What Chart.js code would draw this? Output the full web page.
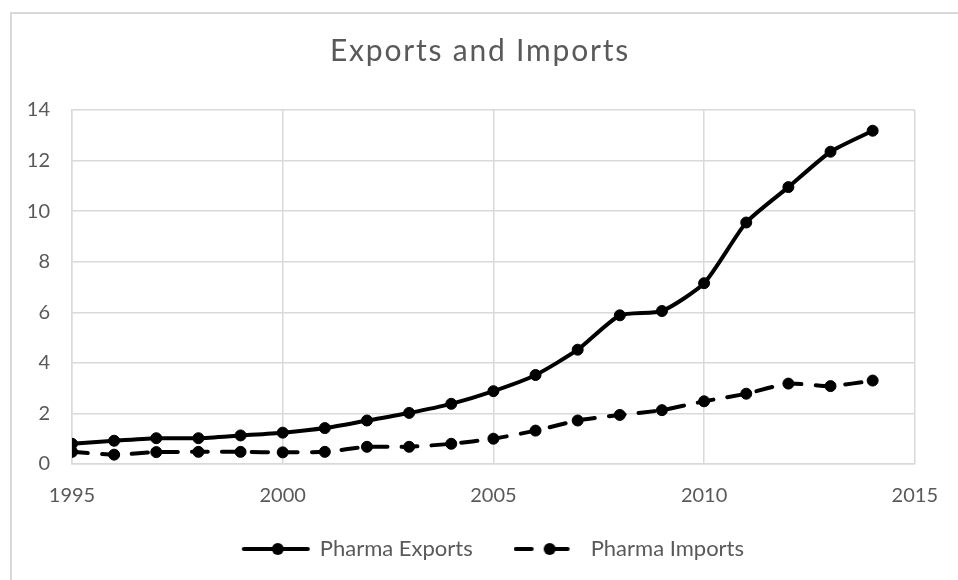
<!DOCTYPE html>
<html>
<head>
<meta charset="utf-8">
<title>Exports and Imports</title>
<script src="https://cdn.jsdelivr.net/npm/chart.js@4"></script>
<style>
  html, body { margin: 0; padding: 0; background: #fff; }
  #wrap { width: 958px; height: 580px; }
</style>
</head>
<body>
<div id="wrap"><canvas id="chart" width="958" height="580"></canvas></div>
<script>
// data
const years = [1995, 1996, 1997, 1998, 1999, 2000, 2001, 2002, 2003, 2004,
               2005, 2006, 2007, 2008, 2009, 2010, 2011, 2012, 2013, 2014];
const pharmaExports = [0.80, 0.92, 1.02, 1.02, 1.13, 1.24, 1.42, 1.72, 2.02, 2.38,
                       2.88, 3.52, 4.52, 5.88, 6.05, 7.15, 9.55, 10.95, 12.35, 13.18];
const pharmaImports = [0.48, 0.37, 0.47, 0.48, 0.48, 0.46, 0.48, 0.68, 0.68, 0.80,
                       1.00, 1.32, 1.72, 1.94, 2.13, 2.48, 2.78, 3.18, 3.08, 3.30];
const xTicks = [1995, 2000, 2005, 2010, 2015];
const seriesNames = ['Pharma Exports', 'Pharma Imports'];

const FONT = "Lato, 'Open Sans', sans-serif";
const GREY = '#595959';
const GRID = '#d9d9d9';

function toPoints(vals) {
  return years.map((y, i) => ({ x: y, y: vals[i] }));
}

// legend symbols: line with a dot in the middle, like the spreadsheet legend
function legendSymbol(dashed) {
  const c = document.createElement('canvas');
  c.width = dashed ? 66 : 70;
  c.height = 16;
  const g = c.getContext('2d');
  g.strokeStyle = '#000';
  g.fillStyle = '#000';
  g.lineWidth = 4;
  g.lineCap = 'round';
  g.beginPath();
  if (dashed) {
    g.moveTo(2, 8); g.lineTo(18, 8);
    g.moveTo(36, 8); g.lineTo(54, 8);
  } else {
    g.moveTo(3, 8); g.lineTo(67, 8);
  }
  g.stroke();
  g.beginPath();
  g.arc(dashed ? 36 : 37, 8, 6, 0, Math.PI * 2);
  g.fill();
  return c;
}
const legendImgs = [legendSymbol(false), legendSymbol(true)];

const frame = {
  id: 'frame',
  afterInit(chart) {
    // title sits centred on the whole frame and is set a little wider
    const tb = chart.titleBlock;
    if (tb) {
      const orig = tb.draw;
      tb.draw = function () {
        const ctx = this.ctx;
        ctx.save();
        ctx.letterSpacing = '1.8px';
        ctx.translate(chart.width / 2 - (this.left + this.right) / 2 + 1, 0);
        orig.call(this);
        ctx.restore();
      };
    }
  },
  afterLayout(chart) {
    // let the x tick labels run below the axis box instead of being clipped
    const x = chart.scales.x;
    x.bottom = x.top + 56;
  },
  beforeDraw(chart) {
    const ctx = chart.ctx;
    ctx.save();
    ctx.fillStyle = '#fff';
    ctx.fillRect(0, 0, chart.width, chart.height);
    ctx.strokeStyle = GRID;
    ctx.lineWidth = 2;
    ctx.strokeRect(11, 13, chart.width + 20, chart.height + 20);
    ctx.restore();
  }
};

new Chart(document.getElementById('chart'), {
  type: 'line',
  data: {
    datasets: [
      {
        label: seriesNames[0],
        data: toPoints(pharmaExports),
        borderColor: '#000',
        backgroundColor: '#000',
        borderWidth: 4,
        pointRadius: 5.5,
        pointBorderWidth: 1,
        pointBackgroundColor: '#000',
        tension: 0.2,
        fill: false
      },
      {
        label: seriesNames[1],
        data: toPoints(pharmaImports),
        borderColor: '#000',
        backgroundColor: '#000',
        borderWidth: 4,
        borderDash: [16, 14],
        borderCapStyle: 'round',
        pointRadius: 5.5,
        pointBorderWidth: 1,
        pointBackgroundColor: '#000',
        tension: 0.2,
        fill: false
      }
    ]
  },
  options: {
    responsive: false,
    animation: false,
    layout: { padding: { left: 10, right: 41, top: 12, bottom: 10 } },
    plugins: {
      title: {
        display: true,
        text: 'Exports and Imports',
        color: GREY,
        font: { family: FONT, size: 30, weight: 'normal' },
        padding: { top: 21, bottom: 41 }
      },
      legend: {
        position: 'bottom',
        fullSize: false,
        labels: {
          color: GREY,
          font: { family: FONT, size: 22 },
          usePointStyle: true,
          pointStyleWidth: 66,
          padding: 41,
          generateLabels(chart) {
            const items = Chart.defaults.plugins.legend.labels.generateLabels(chart);
            items.forEach((it, i) => { it.pointStyle = legendImgs[i]; });
            return items;
          }
        }
      },
      tooltip: { enabled: false }
    },
    scales: {
      x: {
        type: 'linear',
        min: 1995,
        max: 2015,
        afterBuildTicks: (s) => { s.ticks = xTicks.map(v => ({ value: v })); },
        afterFit: (s) => { s.height = 33; },
        grid: { color: GRID, lineWidth: 1.5, drawTicks: false },
        border: { color: GRID, width: 1.5 },
        ticks: {
          color: GREY,
          font: { family: FONT, size: 20 },
          padding: 20,
          maxRotation: 0,
          callback: (v) => String(v)
        }
      },
      y: {
        min: 0,
        max: 14,
        afterFit: (s) => { s.width = 62; },
        grid: { color: GRID, lineWidth: 1.5, drawTicks: false },
        border: { color: GRID, width: 1.5 },
        ticks: { stepSize: 2, color: GREY, font: { family: FONT, size: 20 }, padding: 22 }
      }
    }
  },
  plugins: [frame]
});
</script>
</body>
</html>
